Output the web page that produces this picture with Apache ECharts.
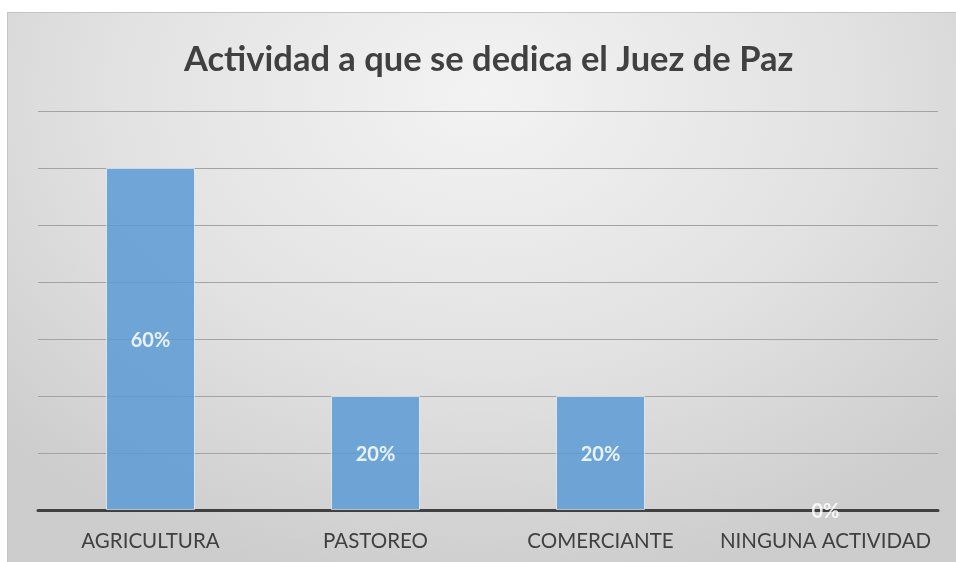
<!DOCTYPE html>
<html>
<head>
<meta charset="utf-8">
<script src="https://cdn.jsdelivr.net/npm/echarts@6/dist/echarts.min.js"></script>
<style>
html,body{margin:0;padding:0;background:#fff;width:956px;height:562px;overflow:hidden;}
#bg{position:absolute;left:7px;top:12px;width:949px;height:550px;box-sizing:border-box;border-top:1px solid #c4c4c4;border-left:1px solid #c4c4c4;
background:radial-gradient(ellipse 70% 90% at 50% 15%, #f3f3f3 0%, #e2e2e2 55%, #cdcdcd 100%);}
#chart{position:absolute;left:0;top:0;width:956px;height:562px;}
</style>
</head>
<body>
<div id="bg"></div>
<div id="chart"></div>
<script>
const titleText = 'Actividad a que se dedica el Juez de Paz';
const categories = ['AGRICULTURA', 'PASTOREO', 'COMERCIANTE', 'NINGUNA ACTIVIDAD'];
const values = [60, 20, 20, 0];
const yMax = 70;
const yInterval = 10;

const chart = echarts.init(document.getElementById('chart'), null, {renderer: 'canvas'});
chart.setOption({
  backgroundColor: 'transparent',
  animation: false,
  title: {
    text: titleText,
    left: 179,
    top: 37,
    textStyle: {fontFamily: 'Lato', fontWeight: 'bold', fontSize: 34.5, color: '#404040'}
  },
  grid: {left: 38, right: 18, top: 111, bottom: 52, containLabel: false},
  xAxis: {
    type: 'category',
    data: categories,
    z: 1,
    axisLine: {lineStyle: {color: '#404040', width: 3}},
    axisTick: {show: false},
    axisLabel: {interval: 0, fontFamily: 'Lato', fontSize: 20.5, color: '#404040', margin: 21}
  },
  yAxis: {
    type: 'value',
    min: 0, max: yMax, interval: yInterval,
    axisLine: {show: false}, axisTick: {show: false}, axisLabel: {show: false},
    splitLine: {lineStyle: {color: '#a3a3a3', width: 1}}
  },
  series: [{
    type: 'bar',
    z: 5,
    data: values.map(v => v === 0 ? {value: v, itemStyle: {borderWidth: 0}} : v),
    barWidth: 89,
    itemStyle: {color: '#5b9bd5', opacity: 0.85, borderColor: 'rgba(255,255,255,0.7)', borderWidth: 1},
    label: {
      show: true, position: 'inside',
      offset: [0, 2],
      formatter: p => p.value + '%',
      fontFamily: 'Lato', fontWeight: 'bold', fontSize: 20, color: '#ffffff'
    }
  }]
});
</script>
</body>
</html>
